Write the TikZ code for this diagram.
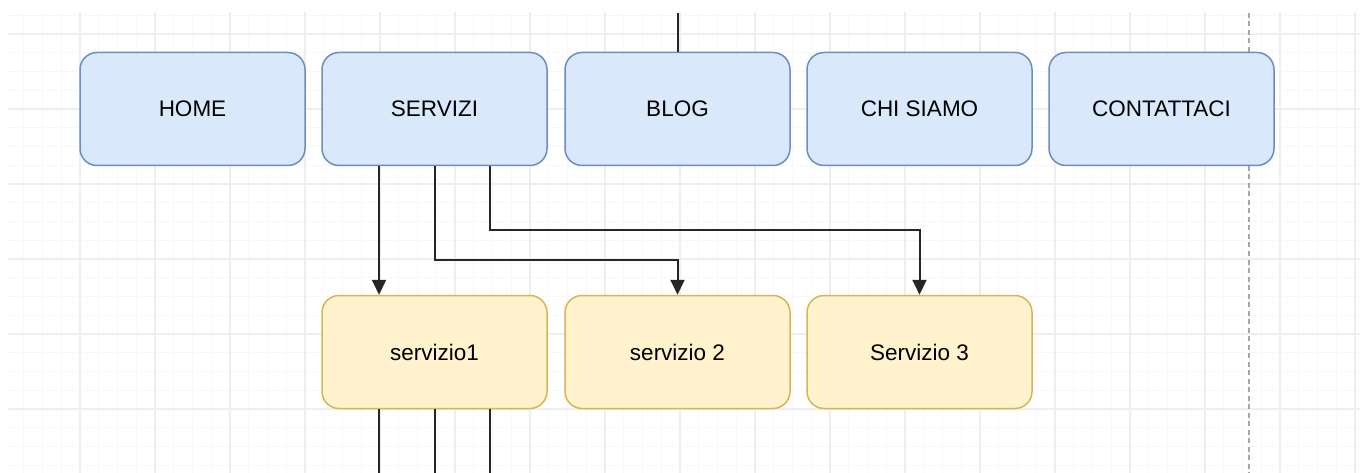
\documentclass[tikz,border=0pt]{standalone}
\usepackage{fontspec}
\setmainfont{Liberation Sans}
\usetikzlibrary{arrows.meta}
\definecolor{bluefill}{HTML}{DAE8FC}
\definecolor{bluedraw}{HTML}{6C8EBF}
\definecolor{yelfill}{HTML}{FFF2CC}
\definecolor{yeldraw}{HTML}{D6B656}
\definecolor{minorgrid}{HTML}{F8F8F8}
\definecolor{majorgrid}{HTML}{EEEEEE}
\tikzset{
  box/.style={rounded corners=17pt, minimum width=225pt, minimum height=113pt,
    line width=1.5pt, inner sep=0pt, text depth=0pt,
    font=\fontsize{22.5}{25}\selectfont, text=black},
  bluebox/.style={box, fill=bluefill, draw=bluedraw},
  yelbox/.style={box, fill=yelfill, draw=yeldraw},
  conn/.style={line width=2pt, draw=black!85},
  arr/.style={conn, -{Triangle[length=15pt,width=14pt]}}
}
\begin{document}
\begin{tikzpicture}[x=1pt,y=-1pt]
\useasboundingbox (0,0) rectangle (1360,473);
\fill[white] (0,0) rectangle (1360,473);
% grid
\begin{scope}
\clip (8,13) rectangle (1360,473);
\foreach \i in {0,...,72} {
  \draw[minorgrid, line width=1pt] ({5+18.75*\i},0) -- ({5+18.75*\i},473);
}
\foreach \j in {-1,...,24} {
  \draw[minorgrid, line width=1pt] (0,{34+18.75*\j}) -- (1360,{34+18.75*\j});
}
\foreach \i in {0,...,18} {
  \draw[majorgrid, line width=1.2pt] ({5+75*\i},0) -- ({5+75*\i},473);
}
\foreach \j in {0,...,5} {
  \draw[majorgrid, line width=1.2pt] (0,{34+75*\j}) -- (1360,{34+75*\j});
}
\end{scope}
% page boundary dashed line
\coordinate (pbtop) at (1249,13);
\coordinate (pbbot) at (1249,473);
\draw[black!35, line width=1.3pt, dash pattern=on 5pt off 3.5pt] (pbtop) -- (pbbot);
% top row
\node[bluebox] (home) at (192.5,109) {HOME};
\node[bluebox] (serv) at (434.5,109) {SERVIZI};
\node[bluebox] (blog) at (677.5,109) {BLOG};
\node[bluebox] (chi) at (919.5,109) {CHI SIAMO};
\node[bluebox] (cont) at (1161.5,109) {CONTATTACI};
% bottom row
\node[yelbox] (s1) at (434.5,352) {servizio1};
\node[yelbox] (s2) at (677.5,352) {servizio 2};
\node[yelbox] (s3) at (919.5,352) {Servizio 3};
% connectors
\draw[arr] ([xshift=-55.5pt]serv.south) -- ([xshift=-55.5pt]s1.north);
\draw[arr] (serv.south) |- ([yshift=35pt]s2.north) -- (s2.north);
\draw[arr] ([xshift=55.5pt]serv.south) |- ([yshift=65pt]s3.north) -- (s3.north);
\coordinate (topend) at (677.5,13);
\draw[conn] (blog.north) -- (topend);
\coordinate (b1) at (379,473);
\coordinate (b2) at (434.5,473);
\coordinate (b3) at (490,473);
\draw[conn] ([xshift=-55.5pt]s1.south) -- (b1);
\draw[conn] (s1.south) -- (b2);
\draw[conn] ([xshift=55.5pt]s1.south) -- (b3);
\end{tikzpicture}
\end{document}
